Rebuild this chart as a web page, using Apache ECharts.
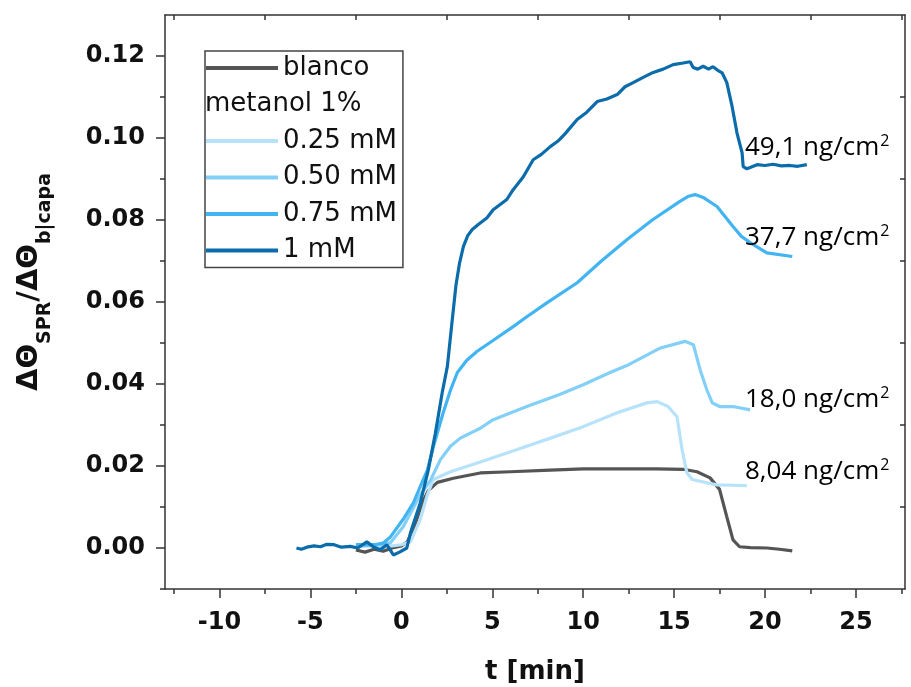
<!DOCTYPE html>
<html>
<head>
<meta charset="utf-8">
<script src="https://cdn.jsdelivr.net/npm/echarts@6/dist/echarts.min.js"></script>
<style>
  html, body { margin: 0; padding: 0; background: #fff; }
  #chart { width: 911px; height: 687px; }
</style>
</head>
<body>
<div id="chart"></div>
<script>
// ---- data: [t (min), dTheta ratio] ----
var blanco = [[-2.5,-0.0005],[-2.0,-0.001],[-1.5,-0.0003],[-1.0,-0.0008],[-0.5,0.0],[0.0,0.0005],[0.33,0.0015],[0.7,0.005],[1.0,0.009],[1.2,0.0115],[1.48,0.014],[1.98,0.016],[2.86,0.017],[4.34,0.0183],[6.0,0.0186],[8.19,0.019],[10.0,0.0193],[12.0,0.0193],[14.0,0.0193],[15.5,0.0192],[16.26,0.0186],[16.98,0.0171],[17.5,0.0143],[17.9,0.0076],[18.24,0.002],[18.6,0.0003],[19.2,0.0001],[20.1,0.0],[20.8,-0.0003],[21.5,-0.0007]];
var mM025 = [[-2.5,0.0005],[-1.5,0.0005],[-0.5,0.0005],[0.0,0.0008],[0.5,0.0015],[1.04,0.007],[1.43,0.013],[1.76,0.0167],[2.7,0.0186],[4.34,0.021],[6.37,0.024],[8.2,0.0268],[10.0,0.0296],[11.87,0.033],[13.5,0.0354],[14.07,0.0357],[14.67,0.0345],[15.16,0.032],[15.44,0.024],[15.7,0.0184],[15.99,0.0167],[16.8,0.0159],[17.36,0.0154],[18.2,0.0153],[19.0,0.0152]];
var mM050 = [[-2.5,0.0005],[-1.5,0.0006],[-0.6,0.0013],[0.1,0.0052],[1.04,0.013],[1.6,0.0165],[2.14,0.0215],[2.7,0.0248],[3.24,0.0268],[4.34,0.0292],[5.05,0.0313],[6.9,0.0345],[8.74,0.0375],[10.0,0.0398],[11.48,0.0428],[12.4,0.0445],[14.2,0.0487],[15.6,0.0504],[16.06,0.0496],[16.43,0.0435],[16.8,0.0386],[17.1,0.0354],[17.5,0.0345],[18.24,0.0345],[19.18,0.0337]];
var mM075 = [[-2.5,0.0008],[-1.5,0.0008],[-1.0,0.0012],[-0.6,0.0027],[0.1,0.007],[0.66,0.011],[1.04,0.015],[1.43,0.019],[1.76,0.0247],[2.3,0.033],[2.7,0.0385],[3.08,0.0428],[3.6,0.0458],[4.17,0.048],[5.0,0.0505],[6.15,0.054],[6.9,0.0564],[8.0,0.0598],[9.67,0.0647],[11.0,0.07],[12.4,0.0752],[13.8,0.08],[15.3,0.0845],[15.8,0.0858],[16.15,0.0862],[16.6,0.0855],[17.36,0.0833],[18.24,0.0784],[18.7,0.076],[19.18,0.0745],[20.1,0.072],[21.5,0.0711]];
var mM1 = [[-5.77,0.0],[-5.5,-0.0003],[-5.2,0.0002],[-4.8,0.0005],[-4.45,0.0003],[-4.1,0.0009],[-3.7,0.0008],[-3.3,0.0002],[-2.8,0.0004],[-2.4,0.0],[-1.9,0.0015],[-1.5,0.0002],[-1.15,-0.0004],[-0.8,0.0008],[-0.44,-0.0017],[-0.1,-0.001],[0.3,0.0],[0.5,0.0037],[1.04,0.011],[1.48,0.019],[1.87,0.028],[2.25,0.038],[2.53,0.0443],[2.8,0.0557],[3.0,0.064],[3.2,0.0695],[3.41,0.0735],[3.65,0.0762],[3.9,0.0777],[4.23,0.0789],[4.34,0.0786],[4.7,0.0805],[5.05,0.0825],[5.8,0.085],[6.15,0.0874],[6.7,0.0905],[7.25,0.0947],[7.7,0.096],[8.19,0.0979],[8.6,0.0992],[9.0,0.101],[9.67,0.1045],[10.2,0.1063],[10.77,0.1089],[11.3,0.1095],[11.87,0.1106],[12.3,0.1125],[12.75,0.1135],[13.3,0.1148],[13.85,0.116],[14.4,0.1168],[14.95,0.1179],[15.5,0.1183],[15.88,0.1186],[16.05,0.1172],[16.3,0.1168],[16.6,0.1175],[16.9,0.1168],[17.14,0.1174],[17.4,0.1165],[17.64,0.1159],[17.9,0.1135],[18.19,0.1077],[18.46,0.1012],[18.74,0.0964],[18.8,0.093],[19.0,0.0925],[19.18,0.0928],[19.56,0.0935],[20.0,0.0933],[20.44,0.0936],[20.9,0.0932],[21.37,0.0933],[21.8,0.0931],[22.3,0.0935]];

// annotations: [x, y, mass value]
var notes = [[18.9,0.0976,'49,1'],[18.9,0.0757,'37,7'],[18.9,0.0362,'18,0'],[18.9,0.0186,'8,04']];

// ticks
var xMajor = [-10,-5,0,5,10,15,20,25];
var xMinor = [-12.5,-7.5,-2.5,2.5,7.5,12.5,17.5,22.5,27.5];
var yMajor = [0,0.02,0.04,0.06,0.08,0.10,0.12];
var yMinor = [-0.01,0.01,0.03,0.05,0.07,0.09,0.11];

var seriesNames = ['blanco','metanol 1%','0.25 mM','0.50 mM','0.75 mM','1 mM'];
var colors = ['#555555', null, '#b6e2fa', '#82cff8', '#42b4f2', '#0b6cab'];
var seriesData = [blanco, [], mM025, mM050, mM075, mM1];

var axisColor = '#333';
var tickFont = { fontFamily: 'DejaVu Sans', fontWeight: 'bold', fontSize: 24, color: '#111' };

var chart = echarts.init(document.getElementById('chart'));

var series = seriesNames.map(function (n, i) {
  return {
    name: n,
    type: 'line',
    data: seriesData[i],
    showSymbol: false,
    symbol: 'none',
    lineStyle: { width: 3.2, color: colors[i] || '#fff' },
    itemStyle: { color: colors[i] || '#fff' },
    z: i === 5 ? 3 : 2
  };
});
series.push({
  type: 'scatter',
  data: notes,
  symbolSize: 0,
  silent: true,
  itemStyle: { opacity: 1 },
  label: {
    show: true,
    position: 'right',
    distance: 0,
    color: '#000',
    opacity: 1,
    formatter: function (p) {
      return '{m|' + p.data[2] + ' ng/cm}{s|2}';
    },
    rich: {
      m: { fontFamily: 'Open Sans', fontSize: 26, color: '#000', lineHeight: 30, verticalAlign: 'middle' },
      s: { fontFamily: 'Open Sans', fontSize: 16, color: '#000', verticalAlign: 'top', lineHeight: 30, padding: [1, 0, 0, 1] }
    }
  }
});

function overlayAxis(extra) {
  return Object.assign({
    type: 'value',
    axisLine: { show: false, onZero: false },
    axisLabel: { show: false },
    splitLine: { show: false }
  }, extra);
}

var option = {
  animation: false,
  backgroundColor: '#fff',
  grid: { left: 165, right: 6, top: 15, bottom: 98, outerBoundsMode: 'none' },
  legend: {
    left: 205,
    top: 51,
    orient: 'vertical',
    itemWidth: 72,
    itemHeight: 4,
    itemGap: 10.5,
    icon: 'rect',
    padding: [4, 6, 4, 0],
    borderColor: '#444',
    borderWidth: 1.5,
    backgroundColor: '#fff',
    selectedMode: false,
    textStyle: { fontFamily: 'DejaVu Sans', fontSize: 26, color: '#111', lineHeight: 26 },
    data: [
      { name: 'blanco' },
      { name: 'metanol 1%', icon: 'none', textStyle: { padding: [0, 0, 0, -78] } },
      { name: '0.25 mM' }, { name: '0.50 mM' }, { name: '0.75 mM' }, { name: '1 mM' }
    ]
  },
  xAxis: [
    {
      type: 'value', position: 'bottom', min: -13, max: 27.7,
      axisLine: { show: true, onZero: false, lineStyle: { color: axisColor, width: 1.5 } },
      axisTick: { show: true, inside: false, length: 9, customValues: xMajor, lineStyle: { color: axisColor, width: 1.5 } },
      axisLabel: Object.assign({ customValues: xMajor, margin: 22 }, tickFont),
      splitLine: { show: false },
      name: 't [min]', nameLocation: 'middle', nameGap: 70,
      nameTextStyle: { fontFamily: 'DejaVu Sans', fontWeight: 'bold', fontSize: 26, color: '#111' }
    },
    overlayAxis({
      position: 'bottom', min: -13, max: 27.7,
      axisTick: { show: true, inside: false, length: 5, customValues: xMinor, lineStyle: { color: axisColor, width: 1.5 } }
    }),
    {
      type: 'value', position: 'top', min: -13, max: 27.7,
      axisLine: { show: true, onZero: false, lineStyle: { color: axisColor, width: 1.5 } },
      axisTick: { show: true, inside: true, length: 5, customValues: xMinor, lineStyle: { color: axisColor, width: 1.5 } },
      axisLabel: { show: false },
      splitLine: { show: false }
    }
  ],
  yAxis: [
    {
      type: 'value', position: 'left', min: -0.01, max: 0.13,
      axisLine: { show: true, onZero: false, lineStyle: { color: axisColor, width: 1.5 } },
      axisTick: { show: true, inside: false, length: 9, customValues: yMajor, lineStyle: { color: axisColor, width: 1.5 } },
      axisLabel: Object.assign({
        customValues: yMajor, margin: 20,
        formatter: function (v) { return v.toFixed(2); }
      }, tickFont),
      splitLine: { show: false },
      name: '{m|ΔΘ}{s|SPR}{m|/ΔΘ}{s|b|capa}',
      nameLocation: 'middle',
      nameRotate: 90,
      nameGap: 110,
      nameTextStyle: {
        padding: [0, 0, 0, 40],
        rich: {
          m: { fontFamily: 'DejaVu Sans', fontWeight: 'bold', fontSize: 29, color: '#111', lineHeight: 42, verticalAlign: 'top', padding: [2, 0, 0, 0] },
          s: { fontFamily: 'DejaVu Sans', fontWeight: 'bold', fontSize: 19, color: '#111', lineHeight: 42, verticalAlign: 'bottom' }
        }
      }
    },
    overlayAxis({
      position: 'left', min: -0.01, max: 0.13,
      axisTick: { show: true, inside: false, length: 5, customValues: yMinor, lineStyle: { color: axisColor, width: 1.5 } }
    }),
    {
      type: 'value', position: 'right', min: -0.01, max: 0.13,
      axisLine: { show: true, onZero: false, lineStyle: { color: axisColor, width: 1.5 } },
      axisTick: { show: true, inside: true, length: 5, customValues: yMinor.slice(1), lineStyle: { color: axisColor, width: 1.5 } },
      axisLabel: { show: false },
      splitLine: { show: false }
    }
  ],
  series: series
};

chart.setOption(option);
</script>
</body>
</html>
